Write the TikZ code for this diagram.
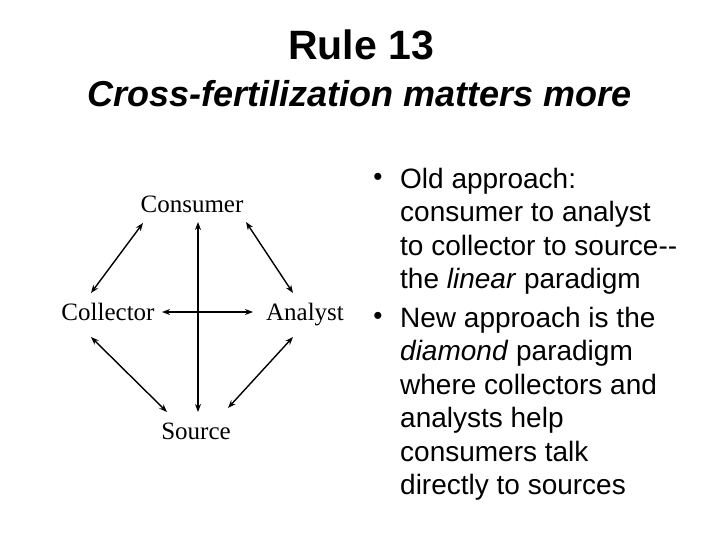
\documentclass[tikz,border=0pt]{standalone}
\usepackage{fontspec}
\setmainfont{Liberation Sans}
\newfontfamily\roleface{Liberation Serif}
\usetikzlibrary{arrows.meta}

\begin{document}
\begin{tikzpicture}[x=1pt,y=-1pt,
	role/.style = {font=\roleface\fontsize{25}{30}\selectfont, inner sep=0pt, anchor=base},
	link/.style = {{Stealth[length=8pt,width=6pt]}-{Stealth[length=8pt,width=6pt]}, line width=1.4pt},
	point/.style = {font=\fontsize{28}{33.5}\selectfont, align=left, inner sep=0pt, anchor=base west},
	dot/.style = {font=\fontsize{26}{30}\selectfont, inner sep=0pt}]
	\useasboundingbox (0,0) rectangle (720,540);
	\node[font=\bfseries\fontsize{41}{49}\selectfont, anchor=base] (title) at (361,60) {Rule 13};
	\node[font=\bfseries\itshape\fontsize{36}{43}\selectfont, anchor=base] (sub) at (360,107) {Cross-fertilization matters more};
	% the four roles
	\node[role] (consumer) at (192,213) {Consumer};
	\node[role] (collector) at (108,320) {Collector};
	\node[role] (analyst) at (305,320) {Analyst};
	\node[role] (source) at (196,439) {Source};
	\draw[link] ([shift={(-49,10)}]consumer.base) -- ([shift={(-17,-27)}]collector.base);
	\draw[link] ([shift={(54,9)}]consumer.base) -- ([shift={(-12,-27)}]analyst.base);
	\draw[link] ([shift={(6,9)}]consumer.base) -- ([shift={(2,-27)}]source.base);
	\draw[link] ([shift={(54,-8)}]collector.base) -- ([shift={(-52,-8)}]analyst.base);
	\draw[link] ([shift={(-17,17)}]collector.base) -- ([shift={(-29,-27)}]source.base);
	\draw[link] ([shift={(-12,17)}]analyst.base) -- ([shift={(32,-31)}]source.base);
	% bullets (base is the last line)
	\node[dot] (b1) at (378,179) {•};
	\node[point] (old) at (400,288.5) {Old approach:\\consumer to analyst\\to collector to source-{}-\\the \textit{linear} paradigm};
	\node[dot] (b2) at (378,318) {•};
	\node[point] (new) at (400,494.5) {New approach is the\\\textit{diamond} paradigm\\where collectors and\\analysts help\\consumers talk\\directly to sources};
\end{tikzpicture}
\end{document}
